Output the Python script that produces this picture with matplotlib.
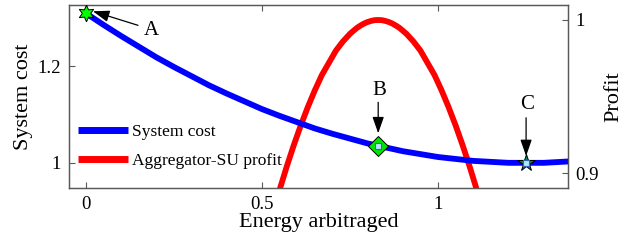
import matplotlib
matplotlib.use('Agg')
import matplotlib.pyplot as plt
import numpy as np

# System cost curve (left axis)
x_cost = [0.00, 0.05, 0.10, 0.15, 0.20, 0.25, 0.30, 0.35, 0.40, 0.45, 0.50, 0.55, 0.60, 0.65,
          0.70, 0.75, 0.80, 0.85, 0.90, 0.95, 1.00, 1.05, 1.10, 1.15, 1.20, 1.25, 1.30, 1.35, 1.40]
cost = [1.309, 1.285, 1.262, 1.240, 1.218, 1.198, 1.179, 1.160, 1.143, 1.127, 1.111, 1.097, 1.084, 1.071,
        1.060, 1.050, 1.040, 1.032, 1.024, 1.018, 1.012, 1.008, 1.004, 1.002, 1.000, 1.000, 1.000, 1.002, 1.004]

# Aggregator-SU profit curve (right axis)
x_profit = [0.53, 0.55, 0.57, 0.59, 0.61, 0.63, 0.65, 0.67, 0.69, 0.71, 0.73, 0.75, 0.76, 0.77, 0.78,
            0.79, 0.80, 0.81, 0.82, 0.83, 0.84, 0.85, 0.86, 0.87, 0.88, 0.89, 0.90, 0.91, 0.93, 0.95,
            0.97, 0.99, 1.01, 1.03, 1.05, 1.07, 1.09, 1.11, 1.13]
profit = [0.872, 0.889, 0.904, 0.918, 0.931, 0.943, 0.954, 0.964, 0.972, 0.980, 0.986, 0.991, 0.9930, 0.9949, 0.9964,
          0.9977, 0.9987, 0.9994, 0.9999, 1.0000, 0.9999, 0.9994, 0.9987, 0.9977, 0.9964, 0.9949, 0.9930, 0.991, 0.986, 0.980,
          0.972, 0.964, 0.954, 0.943, 0.931, 0.918, 0.904, 0.889, 0.872]

# marked points A, B, C on the cost curve
pt_x = [0.0, 0.83, 1.25]
pt_y = [1.309, 1.034, 1.0]
pt_labels = ['A', 'B', 'C']

plt.rcParams['font.family'] = ['Liberation Serif', 'DejaVu Serif']
plt.rcParams['mathtext.fontset'] = 'stix'

spine_col = '0.35'
fig = plt.figure(figsize=(6.27, 2.41), dpi=100)
ax = fig.add_subplot(111)
fig.subplots_adjust(left=69/627, right=568/627, bottom=1-188/241, top=1-5/241)
ax2 = ax.twinx()

l1, = ax.plot(x_cost, cost, color=(0, 0, 1), lw=4.2, solid_capstyle='butt', zorder=2)
l2, = ax2.plot(x_profit, profit, color=(1, 0, 0), lw=4.2, solid_capstyle='butt', zorder=2)

ax.set_xlim(-0.048, 1.369)
ax.set_ylim(0.948, 1.326)
ax2.set_ylim(0.8902, 1.0098)
ax.set_xticks([0, 0.5, 1])
ax.set_xticklabels(['0', '0.5', '1'])
ax.set_yticks([1, 1.2])
ax.set_yticklabels(['1', '1.2'])
ax2.set_yticks([0.9, 1])
ax2.set_yticklabels(['0.9', '1'])

ax.tick_params(direction='in', length=4, width=0.8, colors=spine_col, labelcolor='black',
               labelsize=13.5, top=True, pad=6)
ax2.tick_params(direction='in', length=4, width=0.8, colors=spine_col, labelcolor='black',
                labelsize=13.5, pad=5)
for a in (ax, ax2):
    for s in a.spines.values():
        s.set_color(spine_col)
        s.set_linewidth(0.9)

ax.set_xlabel('Energy arbitraged', fontsize=16, labelpad=0)
ax.set_ylabel('System cost', fontsize=16, labelpad=3)
ax2.set_ylabel('Profit', fontsize=16, labelpad=4)

# put markers on the left axis above the red line
ax.set_zorder(ax2.get_zorder() + 1)
ax.patch.set_visible(False)

# markers
ax.plot(pt_x[0], pt_y[0], marker=(6, 1, 0), markersize=12, markerfacecolor=(0, 1, 0),
        markeredgecolor='black', markeredgewidth=0.7, zorder=5, clip_on=False)
ax.plot(pt_x[1], pt_y[1], marker='D', markersize=10, markerfacecolor=(0, 0.9, 0),
        markeredgecolor='black', markeredgewidth=0.7, zorder=5)
ax.plot(pt_x[2], pt_y[2], marker='*', markersize=13, markerfacecolor=(0, 0.55, 0.3),
        markeredgecolor='black', markeredgewidth=0.7, zorder=5)
for i in (1, 2):
    ax.plot(pt_x[i], pt_y[i], marker='s', markersize=4.5, markerfacecolor=(0.7, 0.9, 1.0),
            markeredgecolor=(0.2, 0.4, 0.7), markeredgewidth=0.8, zorder=6)

arrow = dict(arrowstyle='-|>,head_length=1.0,head_width=0.35', color='black', lw=0.9,
             shrinkA=0, shrinkB=0)
# A
ax.annotate('', xy=(0.02, 1.313), xytext=(0.148, 1.284), arrowprops=arrow, zorder=7)
ax.text(0.185, 1.274, pt_labels[0], fontsize=15, ha='center', va='center')
# B
ax.annotate('', xy=(0.83, 1.061), xytext=(0.83, 1.125), arrowprops=arrow, zorder=7)
ax.text(0.833, 1.15, pt_labels[1], fontsize=15, ha='center', va='center')
# C
ax.annotate('', xy=(1.25, 1.014), xytext=(1.25, 1.093), arrowprops=arrow, zorder=7)
ax.text(1.253, 1.12, pt_labels[2], fontsize=15, ha='center', va='center')

leg = ax.legend([l1, l2], ['System cost', 'Aggregator-SU profit'], loc='upper left',
                bbox_to_anchor=(0.0, 0.40), frameon=False, fontsize=12.5, handlelength=2.9,
                handletextpad=0.25, labelspacing=0.75, borderaxespad=0.3, borderpad=0.2)
for h in leg.get_lines():
    h.set_linewidth(5)

fig.savefig('out.png', dpi=100)
